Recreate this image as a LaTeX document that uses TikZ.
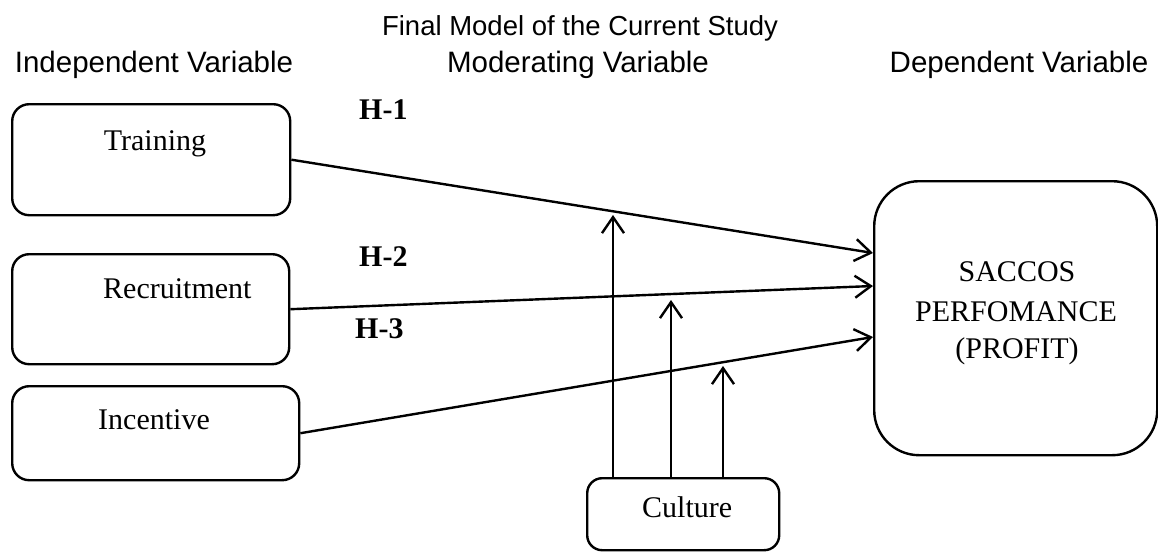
\documentclass[tikz,border=0pt]{standalone}
\usepackage{fontspec}
\setmainfont{Liberation Serif}
\newfontfamily\arialf{Liberation Sans}
\usetikzlibrary{arrows.meta}
\begin{document}
\begin{tikzpicture}[x=1pt,y=-1pt,
  box/.style={draw, line width=2.4pt, rounded corners=17pt, anchor=north west, inner sep=0pt},
  hdr/.style={font=\arialf\fontsize{29.5}{36}\selectfont, inner sep=0pt, anchor=base},
  lbl/.style={font=\fontsize{30}{36}\selectfont, inner sep=0pt, anchor=base west},
  hyp/.style={font=\bfseries\fontsize{30}{36}\selectfont, inner sep=0pt, anchor=base west},
  conn/.style={line width=2.4pt, -{Straight Barb[length=16pt,width=22pt]}}]
\fill[white] (0,0) rectangle (1158,551);
\useasboundingbox (0,0) rectangle (1158,551);

% headers
\node[hdr, font=\arialf\fontsize{27.5}{34}\selectfont] (title) at (580,36) {Final Model of the Current Study};
\node[hdr] (hind) at (154,72) {Independent Variable};
\node[hdr] (hmod) at (578,72) {Moderating Variable};
\node[hdr] (hdep) at (1019,72) {Dependent Variable};

% boxes
\node[box, minimum width=278pt, minimum height=111pt] (train) at (11,103) {};
\node[box, minimum width=277pt, minimum height=110pt] (recr) at (11,253) {};
\node[box, minimum width=287pt, minimum height=94pt] (inc) at (11,385) {};
\node[box, minimum width=192pt, minimum height=72pt, rounded corners=15pt] (cult) at (586,477) {};
\node[box, minimum width=283pt, minimum height=274pt, rounded corners=45pt] (sacc) at (873,180) {};

% box texts
\node[lbl, anchor=base] (ttrain) at (155,150) {Training};
\node[lbl] (trecr) at (103,298) {Recruitment};
\node[lbl, anchor=base] (tinc) at (154,429) {Incentive};
\node[lbl] (tcult) at (642,517) {Culture};
\node[lbl, anchor=base] (ts1) at (1017,281) {SACCOS};
\node[lbl, anchor=base] (ts2) at (1016,321) {PERFOMANCE};
\node[lbl, anchor=base] (ts3) at (1017,358) {(PROFIT)};

% hypotheses
\node[hyp] (h1) at (359,119) {H-1};
\node[hyp] (h2) at (359,266) {H-2};
\node[hyp] (h3) at (355,338) {H-3};

% target coordinates
\coordinate (t1) at (871,253);
\coordinate (t2) at (871,286);
\coordinate (t3) at (871,337);
\coordinate (m1) at (613,215);
\coordinate (m2) at (671,300);
\coordinate (m3) at (723,366);

% connectors
\draw[conn] (train.east) -- (t1 -| sacc.west);
\draw[conn] (recr.east) -- (t2 -| sacc.west);
\draw[conn] (inc.east) -- (t3 -| sacc.west);
\draw[conn] (cult.north -| m1) -- (m1);
\draw[conn] (cult.north -| m2) -- (m2);
\draw[conn] (cult.north -| m3) -- (m3);
\end{tikzpicture}
\end{document}
